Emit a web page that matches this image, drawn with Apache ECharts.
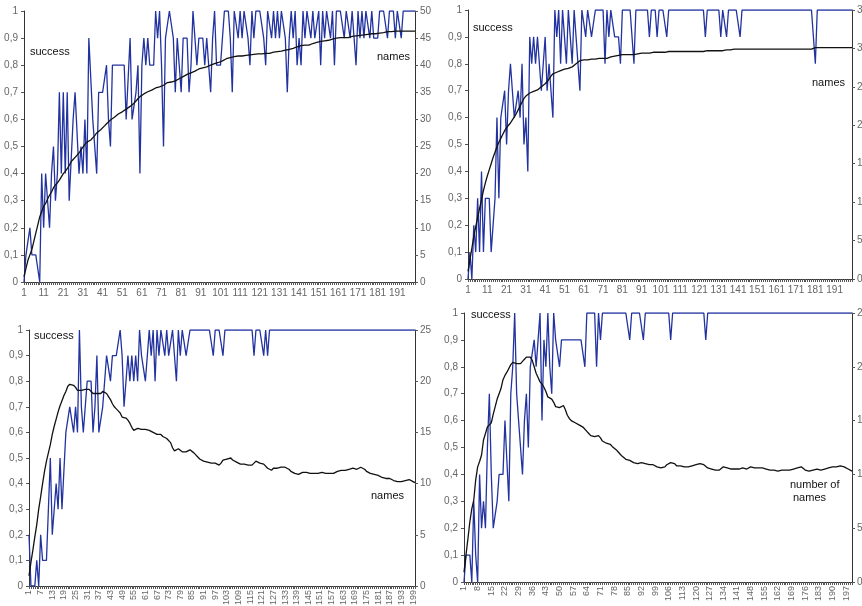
<!DOCTYPE html>
<html lang="en">
<head>
    <meta charset="UTF-8">
    <title>success and names</title>
    <style>
        html,body{ margin:0; padding:0; background:#fff; }
        #chart{ width:862px; height:606px; }
    </style>
    <script src="https://cdn.jsdelivr.net/npm/echarts@6/dist/echarts.min.js"></script>
</head>
<body>
<div id="chart"></div>
<script>
    // x axis: rounds 1..200
    var rounds = [];
    for (var r = 1; r <= 200; r++) rounds.push(String(r));

    // top left
    var successA = [
        0, .1, .1, .2, .1, .1, .1, .1, 0, .4,
        .2, .4, .3, .2, .4, .5, .3, .4, .7, .4,
        .7, .4, .7, .3, .3, .6, .7, .7, .4, .5,
        .4, .6, .4, .9, .9, .6, .6, .4, .7, .7,
        .7, .7, .8, .6, .5, .8, .8, .8, .8, .8,
        .8, .8, .6, .6, .9, .6, .6, .7, .8, .4,
        .8, .9, .8, .9, .8, .8, .8, 1, .9, 1,
        .8, .5, .9, .9, 1, 1, .9, .7, .9, .8,
        .7, .9, .9, .9, .7, .8, 1, .9, .8, .9,
        .9, .9, .8, .9, .8, .7, .9, 1, .8, .8,
        .8, .8, 1, 1, 1, .9, .7, 1, 1, .9,
        1, .9, 1, 1, .9, .8, 1, .9, 1, 1,
        1, 1, .9, .8, 1, 1, .9, 1, .9, 1,
        .9, 1, 1, .9, .7, .9, 1, .9, 1, .8,
        .9, .8, 1, .9, 1, 1, .9, 1, .9, .9,
        1, .8, 1, .9, 1, 1, .9, 1, .8, 1,
        1, 1, 1, .9, 1, 1, .9, 1, .9, .8,
        1, .9, 1, .9, 1, 1, .9, 1, .9, .9,
        .9, 1, 1, 1, 1, .9, 1, 1, 1, .9,
        1, 1, .9, 1, 1, 1, 1, 1, 1, 1
    ];
    var namesA = [
        1, 2.5, 4, 5, 6, 7.5, 9, 10.5, 12, 13,
        14, 14.5, 15.3, 16, 16.6, 17.4, 17.9, 18.3, 18.8, 19.4,
        20, 20.4, 20.9, 21.5, 22.2, 22.6, 23, 23.3, 23.8, 24.4,
        24.9, 25.4, 25.8, 26, 26.2, 26.5, 27, 27.5, 27.8, 28.1,
        28.4, 28.8, 29.2, 29.5, 29.9, 30.2, 30.4, 30.7, 31, 31.2,
        31.4, 31.6, 31.9, 32.2, 32.4, 32.6, 33, 33.4, 33.8, 34.2,
        34.5, 34.7, 34.9, 35.1, 35.3, 35.4, 35.6, 35.8, 35.9, 36,
        36.1, 36.3, 36.6, 36.8, 36.9, 36.9, 37, 37.1, 37.3, 37.5,
        37.6, 37.9, 38.1, 38.3, 38.5, 38.6, 38.8, 38.9, 39.1, 39.3,
        39.4, 39.5, 39.6, 39.7, 39.9, 40, 40.1, 40.3, 40.4, 40.5,
        40.6, 40.8, 41, 41.2, 41.3, 41.4, 41.5, 41.6, 41.6, 41.7,
        41.7, 41.7, 41.8, 41.8, 41.9, 41.9, 42, 42, 42.1, 42.1,
        42.1, 42.1, 42.2, 42.2, 42.2, 42.2, 42.3, 42.4, 42.4, 42.5,
        42.5, 42.6, 42.7, 42.8, 42.8, 42.9, 43, 43.1, 43.3, 43.4,
        43.5, 43.6, 43.6, 43.7, 43.7, 43.7, 43.8, 44, 44.1, 44.2,
        44.3, 44.4, 44.4, 44.5, 44.5, 44.6, 44.7, 44.8, 44.9, 45,
        45.1, 45.1, 45.1, 45.1, 45.1, 45.1, 45.2, 45.3, 45.3, 45.4,
        45.4, 45.5, 45.5, 45.6, 45.6, 45.7, 45.7, 45.8, 45.8, 45.8,
        45.9, 45.9, 46, 46, 46.1, 46.2, 46.2, 46.2, 46.3, 46.3,
        46.3, 46.3, 46.3, 46.3, 46.3, 46.3, 46.3, 46.3, 46.3, 46.3
    ];

    // top right
    var successB = [
        0, .1, 0, .2, .1, .3, .1, .4, .1, .3,
        .3, .3, .1, .1, .3, .6, .3, .6, .6, .7,
        .5, .7, .8, .7, .6, .6, .7, .6, .8, .5,
        .6, .4, .9, .8, .9, .8, .9, .8, .7, .8,
        .9, .7, .8, .7, .6, 1, .9, 1, .8, 1,
        .9, .8, 1, .9, .8, 1, .9, .8, .7, 1,
        1, .9, 1, 1, .9, .9, 1, 1, 1, 1,
        1, .8, 1, .9, 1, 1, .9, .9, .9, .8,
        1, 1, 1, 1, 1, 1, .8, 1, 1, 1,
        1, 1, 1, 1, .9, 1, 1, 1, .9, 1,
        1, 1, 1, .9, 1, 1, 1, 1, 1, 1,
        1, 1, 1, 1, 1, 1, 1, 1, 1, 1,
        1, 1, 1, .9, 1, 1, 1, 1, 1, 1,
        1, .9, 1, 1, .9, 1, 1, 1, 1, 1,
        1, .9, 1, 1, 1, 1, 1, 1, 1, 1,
        1, 1, 1, 1, 1, 1, 1, 1, 1, 1,
        1, 1, 1, 1, 1, 1, 1, 1, 1, 1,
        1, 1, 1, 1, 1, 1, 1, 1, 1, 1,
        .8, 1, 1, 1, 1, 1, 1, 1, 1, 1,
        1, 1, 1, 1, 1, 1, 1, 1, 1, 1
    ];
    var namesB = [
        1, 2.5, 4, 5.5, 6.8, 8, 9.2, 10.3, 11.5, 12.5,
        13.4, 14.2, 15, 15.8, 16.5, 17.2, 17.8, 18.3, 18.8, 19.3,
        19.7, 20, 20.3, 20.7, 21.1, 21.5, 22, 22.5, 23, 23.5,
        23.8, 24, 24.2, 24.3, 24.4, 24.5, 24.6, 24.8, 25, 25.2,
        25.4, 25.7, 26, 26.4, 26.7, 26.8, 26.9, 27, 27.1, 27.2,
        27.3, 27.3, 27.4, 27.4, 27.6, 27.8, 28, 28.2, 28.4, 28.5,
        28.5, 28.5, 28.5, 28.6, 28.6, 28.6, 28.6, 28.7, 28.7, 28.7,
        28.7, 28.7, 28.7, 28.8, 28.9, 29, 29, 29.1, 29.1, 29.2,
        29.2, 29.2, 29.2, 29.2, 29.2, 29.2, 29.2, 29.3, 29.3, 29.4,
        29.4, 29.4, 29.4, 29.4, 29.4, 29.5, 29.5, 29.5, 29.5, 29.5,
        29.5, 29.5, 29.5, 29.5, 29.6, 29.6, 29.6, 29.6, 29.6, 29.6,
        29.6, 29.6, 29.6, 29.6, 29.6, 29.6, 29.6, 29.6, 29.6, 29.6,
        29.6, 29.6, 29.6, 29.6, 29.7, 29.7, 29.7, 29.7, 29.7, 29.7,
        29.7, 29.7, 29.7, 29.8, 29.8, 29.8, 29.8, 29.8, 29.9, 29.9,
        29.9, 29.9, 29.9, 29.9, 29.9, 29.9, 29.9, 29.9, 29.9, 29.9,
        29.9, 29.9, 29.9, 29.9, 29.9, 29.9, 29.9, 29.9, 29.9, 29.9,
        29.9, 29.9, 29.9, 29.9, 29.9, 29.9, 29.9, 29.9, 29.9, 29.9,
        29.9, 29.9, 29.9, 29.9, 29.9, 29.9, 29.9, 29.9, 29.9, 29.9,
        30.1, 30.1, 30.1, 30.1, 30.1, 30.1, 30.1, 30.1, 30.1, 30.1,
        30.1, 30.1, 30.1, 30.1, 30.1, 30.1, 30.1, 30.1, 30.1, 30.1
    ];

    // bottom left
    var successC = [
        .2, 0, 0, 0, .1, 0, .2, .1, .1, .1,
        .1, .5, .2, .3, .4, .3, .5, .3, .3, .6,
        .6, .7, .7, .6, .7, .6, 1, .7, .6, .7,
        .8, .8, .8, .6, .7, .9, .6, .6, .7, .7,
        .9, .9, .8, .9, .9, .9, .9, 1, .9, .7,
        .8, .9, .8, .9, .8, .9, .8, 1, .9, .9,
        .8, .9, 1, .9, 1, .8, 1, .9, 1, 1,
        .9, 1, .9, .9, 1, 1, .8, 1, .9, 1,
        1, .9, .9, 1, 1, 1, 1, 1, 1, 1,
        1, 1, 1, 1, 1, .9, 1, 1, 1, 1,
        .9, 1, 1, 1, 1, 1, 1, 1, 1, 1,
        1, 1, 1, 1, 1, 1, .9, 1, 1, 1,
        1, .9, 1, .9, 1, 1, 1, 1, 1, 1,
        1, 1, 1, 1, 1, 1, 1, 1, 1, 1,
        1, 1, 1, 1, 1, 1, 1, 1, 1, 1,
        1, 1, 1, 1, 1, 1, 1, 1, 1, 1,
        1, 1, 1, 1, 1, 1, 1, 1, 1, 1,
        1, 1, 1, 1, 1, 1, 1, 1, 1, 1,
        1, 1, 1, 1, 1, 1, 1, 1, 1, 1,
        1, 1, 1, 1, 1, 1, 1, 1, 1, 1
    ];
    var namesC = [
        1, 2.3, 3.5, 4.8, 6, 7.5, 8.7, 10, 11.2, 12.2,
        13, 13.8, 14.8, 15.6, 16.3, 17, 17.6, 18.1, 18.6, 19,
        19.5, 19.7, 19.7, 19.6, 19.4, 19.1, 19, 19.1, 19.2, 19.2,
        19.3, 19.2, 19.1, 18.8, 18.7, 18.8, 18.7, 18.8, 19, 19,
        18.8, 18.5, 18.2, 17.8, 17.5, 17.3, 17.1, 16.9, 16.5, 16.4,
        16.4, 16.2, 15.9, 15.5, 15.2, 15.2, 15.4, 15.4, 15.3, 15.3,
        15.3, 15.2, 15.2, 15.1, 15, 14.9, 14.8, 14.7, 14.8, 14.6,
        14.5, 14.4, 14.3, 14, 13.5, 13.2, 13.2, 13.4, 13.4, 13.1,
        13.1, 13.1, 13.2, 13.3, 13.2, 13, 12.8, 12.6, 12.4, 12.3,
        12.2, 12.1, 12.1, 12, 12, 12, 12, 11.9, 11.8, 12,
        12.3, 12.4, 12.4, 12.4, 12.5, 12.3, 12.2, 12.1, 12, 11.9,
        11.9, 11.9, 11.8, 11.8, 11.8, 11.8, 12, 12.2, 12.3, 12,
        11.9, 11.9, 11.8, 11.5, 11.4, 11.3, 11.5, 11.6, 11.5, 11.6,
        11.6, 11.5, 11.6, 11.5, 11.4, 11.2, 11.1, 11, 11, 10.9,
        11, 11.1, 11.2, 11.1, 11, 11, 11.1, 11, 11, 11,
        11, 11.1, 11, 11, 11, 11, 11, 11, 11.1, 11.2,
        11.3, 11.3, 11.2, 11.3, 11.3, 11.4, 11.4, 11.5, 11.5, 11.4,
        11.5, 11.6, 11.6, 11.4, 11.2, 11.1, 11, 11, 10.9, 10.8,
        10.8, 10.7, 10.6, 10.5, 10.5, 10.6, 10.5, 10.4, 10.3, 10.3,
        10.2, 10.2, 10.2, 10.3, 10.3, 10.4, 10.4, 10.3, 10.2, 10.1
    ];

    // bottom right
    var successD = [
        0, .1, .1, .1, 0, .3, .1, 0, .4, .2,
        .3, .2, .5, .7, .4, .2, .2, .3, .4, .4,
        .4, .6, .6, .3, .7, .8, 1, .7, .6, .6,
        .4, .6, .7, .5, .8, .8, .9, .8, .9, 1,
        .6, .9, .8, 1, .8, .7, 1, .9, .9, .8,
        .9, .9, .9, .9, .9, .9, .9, .9, .9, .9,
        .9, .9, .8, 1, 1, 1, 1, 1, .8, 1,
        .9, 1, 1, 1, 1, 1, 1, 1, 1, 1,
        1, 1, 1, 1, 1, .9, 1, 1, 1, 1,
        1, 1, .9, 1, 1, 1, 1, 1, 1, 1,
        1, 1, 1, 1, 1, 1, .9, 1, 1, 1,
        1, 1, 1, 1, 1, 1, 1, 1, 1, 1,
        1, 1, 1, 1, .9, 1, 1, 1, 1, 1,
        1, 1, 1, 1, 1, 1, 1, 1, 1, 1,
        1, 1, 1, 1, 1, 1, 1, 1, 1, 1,
        1, 1, 1, 1, 1, 1, 1, 1, 1, 1,
        1, 1, 1, 1, 1, 1, 1, 1, 1, 1,
        1, 1, 1, 1, 1, 1, 1, 1, 1, 1,
        1, 1, 1, 1, 1, 1, 1, 1, 1, 1,
        1, 1, 1, 1, 1, 1, 1, 1, 1, 1
    ];
    var namesD = [
        0.9, 2.5, 4, 5.6, 6.8, 7.6, 9.5, 10.7, 11.2, 11.8,
        13.2, 13.8, 14.4, 14.6, 14.8, 15.6, 16.3, 17, 17.5, 18,
        18.8, 19.2, 19.5, 19.6, 20.2, 20.4, 20.5, 20.3, 20.2, 20.3,
        20.5, 20.7, 20.9, 21, 20.9, 20.6, 20, 19.4, 19, 18.6,
        18.4, 18.1, 17.7, 17.2, 17.2, 17, 16.7, 16.3, 16.2, 16.2,
        16.3, 16.4, 16, 15.5, 15.2, 15, 14.9, 14.8, 14.7, 14.6,
        14.5, 14.4, 14.3, 14, 13.8, 13.6, 13.5, 13.5, 13.6, 13.6,
        13.4, 13.1, 13, 12.9, 12.8, 12.8, 12.6, 12.5, 12.3, 12.1,
        11.9, 11.7, 11.6, 11.4, 11.3, 11.3, 11.2, 11.1, 11.1, 11,
        11, 11.1, 11, 11, 10.9, 10.9, 10.9, 10.9, 10.8, 10.7,
        10.7, 10.6, 10.6, 10.7, 10.9, 11, 11.1, 11.1, 11, 10.8,
        10.8, 10.8, 10.7, 10.7, 10.7, 10.7, 10.7, 10.8, 10.8, 10.9,
        10.9, 11, 11, 10.9, 10.8, 10.6, 10.5, 10.5, 10.4, 10.4,
        10.4, 10.4, 10.5, 10.7, 10.7, 10.6, 10.5, 10.5, 10.5, 10.5,
        10.5, 10.5, 10.5, 10.6, 10.6, 10.5, 10.6, 10.7, 10.7, 10.6,
        10.6, 10.6, 10.5, 10.6, 10.6, 10.5, 10.5, 10.4, 10.4, 10.4,
        10.4, 10.3, 10.3, 10.4, 10.4, 10.4, 10.4, 10.4, 10.4, 10.5,
        10.6, 10.6, 10.7, 10.7, 10.6, 10.4, 10.3, 10.3, 10.4, 10.4,
        10.5, 10.5, 10.4, 10.4, 10.5, 10.5, 10.6, 10.6, 10.7, 10.7,
        10.7, 10.7, 10.8, 10.8, 10.7, 10.7, 10.6, 10.5, 10.4, 10.3
    ];

    var font = "'Liberation Sans', Arial, sans-serif";
    var blue = '#2233a0';

    function xAxis(gi, interval, rotate) {
        return {
            type: 'category', gridIndex: gi, data: rounds, boundaryGap: false,
            axisLine: { lineStyle: { color: '#333', width: 1 } },
            axisTick: { interval: 0, length: 3, lineStyle: { color: '#555' } },
            axisLabel: {
                interval: interval, rotate: rotate, margin: rotate ? 4 : 6,
                color: '#666', fontSize: rotate ? 9 : 10, fontFamily: font
            },
            splitLine: { show: false }
        };
    }
    function yLeft(gi) {
        return {
            type: 'value', gridIndex: gi, position: 'left', min: 0, max: 1, interval: 0.1,
            axisLine: { show: true, lineStyle: { color: '#333' } },
            axisTick: { show: true, length: 3, lineStyle: { color: '#555' } },
            axisLabel: {
                color: '#666', fontSize: 10, fontFamily: font, margin: 6,
                formatter: function (v) { return String(Math.round(v * 10) / 10).replace('.', ','); }
            },
            splitLine: { show: false }
        };
    }
    function yRight(gi, max) {
        return {
            type: 'value', gridIndex: gi, position: 'right', min: 0, max: max, interval: 5,
            axisLine: { show: true, lineStyle: { color: '#333' } },
            axisTick: { show: true, length: 3, lineStyle: { color: '#555' } },
            axisLabel: { color: '#666', fontSize: 10, fontFamily: font, margin: 5 },
            splitLine: { show: false }
        };
    }
    function lines(gi, success, names) {
        return [
            { type: 'line', xAxisIndex: gi, yAxisIndex: gi * 2, data: success, symbol: 'none',
              lineStyle: { color: blue, width: 1.3 }, z: 2 },
            { type: 'line', xAxisIndex: gi, yAxisIndex: gi * 2 + 1, data: names, symbol: 'none',
              lineStyle: { color: '#111', width: 1.3 }, z: 3 }
        ];
    }
    function label(txt, x, y) {
        return { type: 'text', x: x, y: y, style: { text: txt, fill: '#111', font: '11px ' + font, verticalAlign: 'middle' } };
    }

    var chart = echarts.init(document.getElementById('chart'));
    chart.setOption({
        animation: false,
        backgroundColor: '#fff',
        grid: [
            { left: 24, top: 11, width: 391, height: 271, outerBoundsMode: 'none' },
            { left: 468, top: 10, width: 384, height: 269, outerBoundsMode: 'none' },
            { left: 29, top: 330, width: 386, height: 256, outerBoundsMode: 'none' },
            { left: 464, top: 313, width: 388, height: 269, outerBoundsMode: 'none' }
        ],
        xAxis: [xAxis(0, 9, 0), xAxis(1, 9, 0), xAxis(2, 5, 90), xAxis(3, 6, 90)],
        yAxis: [yLeft(0), yRight(0, 50), yLeft(1), yRight(1, 35),
                yLeft(2), yRight(2, 25), yLeft(3), yRight(3, 25)],
        series: [].concat(
            lines(0, successA, namesA),
            lines(1, successB, namesB),
            lines(2, successC, namesC),
            lines(3, successD, namesD)
        ),
        graphic: [
            label('success', 30, 52),
            label('names', 377, 57),
            label('success', 473, 28),
            label('names', 812, 83),
            label('success', 34, 336),
            label('names', 371, 496),
            label('success', 471, 315),
            label('number of', 790, 485),
            label('names', 793, 498)
        ]
    });
</script>
</body>
</html>
